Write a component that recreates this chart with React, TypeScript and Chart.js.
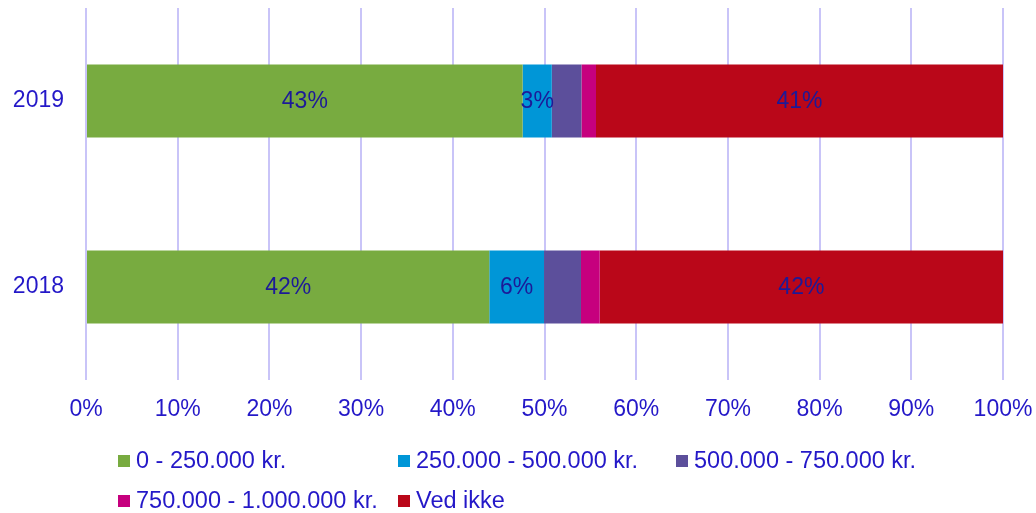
import React, { useEffect, useRef } from "react";
import { Chart, registerables } from "chart.js";

Chart.register(...registerables);

// ---- data ----
const categories = ["2019", "2018"];
const seriesNames = [
  "0 - 250.000 kr.",
  "250.000 - 500.000 kr.",
  "500.000 - 750.000 kr.",
  "750.000 - 1.000.000 kr.",
  "Ved ikke",
];
const band0to250 = [43.45, 42];
const band250to500 = [2.9, 5.7];
const band500to750 = [2.95, 3.85];
const band750to1000 = [1.45, 1.95];
const dontKnow = [40.5, 42];
const showValueLabels = [true, true, false, false, true];
const xTickValues = [0, 10, 20, 30, 40, 50, 60, 70, 80, 90, 100];

const seriesColors = ["#78AB40", "#0096D7", "#5C4F9B", "#C6007E", "#BA0719"];
const textColor = "#2418C8";
const labelColor = "#1C1A98";
const gridColor = "#C9C4F8";
const FONT = "'Liberation Sans', Arial, sans-serif";
const FS = 23;
const LEGEND_FS = 23.5;

export default function App() {
  const canvasRef = useRef<HTMLCanvasElement | null>(null);

  useEffect(() => {
    const canvas = canvasRef.current;
    if (!canvas) return;
    const raw = [band0to250, band250to500, band500to750, band750to1000, dontKnow];
    const totals = categories.map((_, c) => raw.reduce((s, arr) => s + arr[c], 0));

    const valueLabelPlugin = {
      id: "valueLabels",
      afterDatasetsDraw(chart: any) {
        const ctx = chart.ctx;
        ctx.save();
        ctx.font = `${FS}px ${FONT}`;
        ctx.fillStyle = labelColor;
        ctx.textAlign = "center";
        ctx.textBaseline = "middle";
        chart.data.datasets.forEach((ds: any, i: number) => {
          if (!showValueLabels[i]) return;
          const meta = chart.getDatasetMeta(i);
          meta.data.forEach((el: any, j: number) => {
            const p = el.getProps(["x", "base", "y"], true);
            const cx = (p.x + p.base) / 2;
            ctx.fillText(Math.round(ds.rawValues[j]) + "%", cx, p.y + 1);
          });
        });
        ctx.restore();
      },
    };

    const legendPlugin = {
      id: "gridLegend",
      afterDraw(chart: any) {
        const ctx = chart.ctx;
        const colX = [118, 398, 676];
        const rowY = [461, 501];
        ctx.save();
        ctx.font = `${LEGEND_FS}px ${FONT}`;
        ctx.textBaseline = "middle";
        ctx.textAlign = "left";
        chart.data.datasets.forEach((ds: any, i: number) => {
          const x = colX[i % 3];
          const y = rowY[Math.floor(i / 3)];
          ctx.fillStyle = ds.backgroundColor;
          ctx.fillRect(x, y - 6, 12, 12);
          ctx.fillStyle = textColor;
          ctx.fillText(ds.label, x + 18, y + 1);
        });
        ctx.restore();
      },
    };

    const chart = new Chart(canvas, {
      type: "bar",
      data: {
        labels: categories,
        datasets: raw.map((arr, i) => ({
          label: seriesNames[i],
          data: arr.map((v, c) => (v / totals[c]) * 100),
          rawValues: arr,
          backgroundColor: seriesColors[i],
          borderWidth: 0,
          barPercentage: 0.392,
          categoryPercentage: 1,
        })) as any,
      },
      options: {
        indexAxis: "y",
        responsive: false,
        animation: false,
        layout: { padding: { top: 8, right: 33, left: 0, bottom: 0 } },
        plugins: {
          legend: { display: false },
          tooltip: { enabled: false },
        },
        scales: {
          x: {
            stacked: true,
            min: 0,
            max: 100,
            afterBuildTicks(scale: any) {
              scale.ticks = xTickValues.map((v) => ({ value: v }));
            },
            afterFit(scale: any) {
              scale.height = 133;
              scale.paddingLeft = 0;
              scale.paddingRight = 0;
            },
            grid: { color: gridColor, lineWidth: 2, drawTicks: false },
            border: { display: false },
            ticks: {
              color: textColor,
              font: { family: FONT, size: FS },
              padding: 16,
              maxRotation: 0,
              callback: (v: any) => v + "%",
            },
          },
          y: {
            stacked: true,
            afterFit(scale: any) {
              scale.width = 86;
              scale.paddingTop = 0;
              scale.paddingBottom = 0;
            },
            grid: { display: false, drawTicks: false },
            border: { display: false },
            ticks: {
              color: textColor,
              font: { family: FONT, size: FS },
              padding: 22,
            },
          },
        },
      },
      plugins: [valueLabelPlugin, legendPlugin],
    });

    return () => chart.destroy();
  }, []);

  return (
    <div style={{ position: "fixed", left: 0, top: 0, width: 1036, height: 513, background: "#fff" }}>
      <canvas ref={canvasRef} width={1036} height={513} style={{ width: 1036, height: 513, display: "block" }} />
    </div>
  );
}
